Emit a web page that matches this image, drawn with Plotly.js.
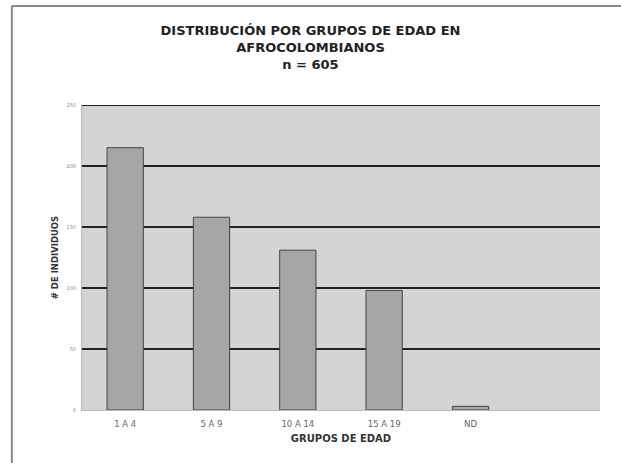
<!DOCTYPE html>
<html><head><meta charset="utf-8">
<script src="https://cdn.plot.ly/plotly-3.0.1.min.js"></script>
<style>body{margin:0;background:#fff}#c{width:621px;height:463px}</style>
</head><body><div id="c"></div>
<script>
const categories = ["1 A 4", "5 A 9", "10 A 14", "15 A 19", "ND", " "];
const values = [215, 158, 131, 98, 3, null];
const yTicks = [0, 50, 100, 150, 200, 250];

Plotly.newPlot("c", [{
  type: "bar",
  x: categories,
  y: values,
  width: 0.42,
  marker: {color: "#a6a6a6", line: {color: "#444", width: 1}},
  hoverinfo: "skip"
}], {
  width: 621, height: 463,
  paper_bgcolor: "#ffffff",
  plot_bgcolor: "#d4d4d4",
  margin: {l: 82, r: 21, t: 105, b: 53},
  showlegend: false,
  bargap: 0.58,
  title: {
    text: "<b>DISTRIBUCIÓN POR GRUPOS DE EDAD EN<br>AFROCOLOMBIANOS<br>n = 605</b>",
    font: {family: "DejaVu Sans, sans-serif", size: 13, color: "#222"},
    x: 0.5, xanchor: "center", y: 0.925, yanchor: "top"
  },
  xaxis: {
    type: "category",
    range: [-0.5, 5.5],
    tickfont: {family: "DejaVu Sans", size: 8.5, color: "#666"},
    ticks: "outside", ticklen: 6, tickcolor: "rgba(0,0,0,0)",
    showline: true, linecolor: "#bbb", linewidth: 1,
    title: {text: "<b>GRUPOS DE EDAD</b>", font: {family: "DejaVu Sans", size: 10, color: "#333"}, standoff: 6}
  },
  yaxis: {
    range: [0, 250],
    tickvals: yTicks,
    tickfont: {family: "DejaVu Sans", size: 5, color: "#888"},
    showgrid: true, gridcolor: "#222", gridwidth: 2,
    zeroline: false, showline: true, linecolor: "#bbb", linewidth: 1,
    ticks: "outside", ticklen: 4, tickcolor: "rgba(0,0,0,0)",
    title: {text: "<b># DE INDIVIDUOS</b>", font: {family: "DejaVu Sans", size: 8.5, color: "#333"}, standoff: 6}
  },
  shapes: [
    {type: "line", xref: "paper", yref: "y", x0: 0, x1: 1, y0: 250, y1: 250, line: {color: "#222", width: 2}},
    {type: "line", xref: "paper", yref: "paper", x0: -0.1354, x1: 1.05, y0: 1.3246, y1: 1.3246, line: {color: "#888", width: 2}},
    {type: "line", xref: "paper", yref: "paper", x0: -0.1354, x1: -0.1354, y0: 1.3246, y1: -0.18, line: {color: "#888", width: 2}}
  ]
}, {displayModeBar: false, staticPlot: true});
</script></body></html>
